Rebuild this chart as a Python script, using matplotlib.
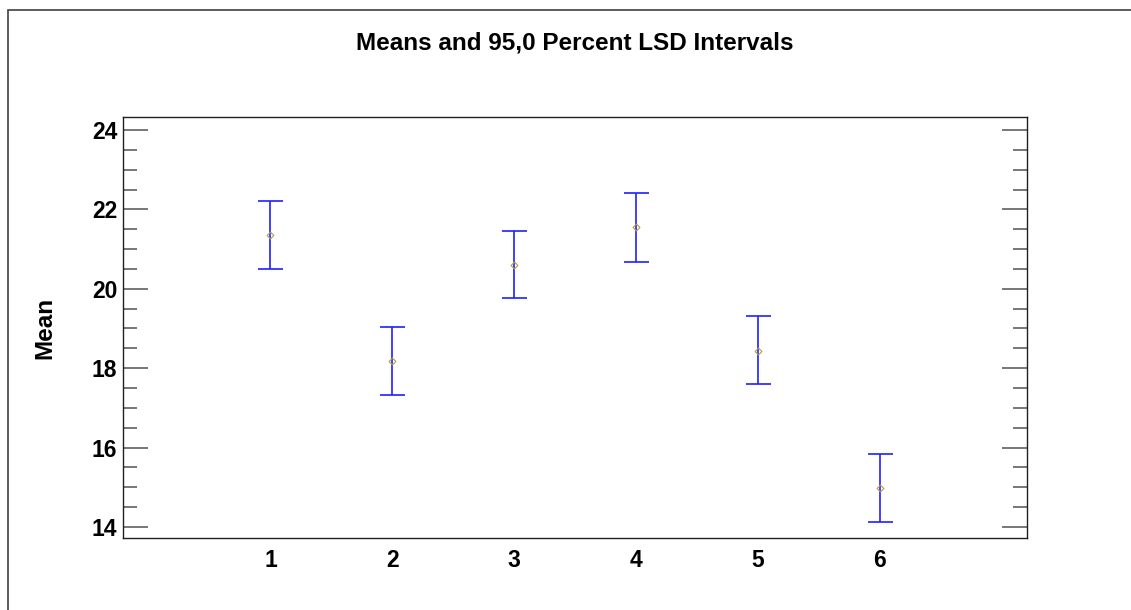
import numpy as np
import matplotlib.pyplot as plt
from matplotlib.patches import Rectangle
from matplotlib.ticker import MultipleLocator

# Group labels, means and LSD interval limits
groups = [1, 2, 3, 4, 5, 6]
means = [21.35, 18.18, 20.60, 21.56, 18.43, 14.98]
lower = [20.50, 17.33, 19.77, 20.68, 17.60, 14.13]
upper = [22.21, 19.04, 21.46, 22.41, 19.31, 15.84]

plt.rcParams['font.family'] = ['Liberation Sans', 'DejaVu Sans']

W, H = 1131, 610
fig = plt.figure(figsize=(W / 100, H / 100), dpi=100)

# outer frame of the graphics window (only top and left edges visible)
fig.patches.append(Rectangle((8 / W, -0.1), 1.2, 1.1 - 10 / H, transform=fig.transFigure,
                             fill=False, edgecolor='#404040', linewidth=1.2))

ax = fig.add_axes([123 / W, 1 - 538 / H, (1027 - 123) / W, (538 - 117) / H])

means = np.array(means)
yerr = [means - np.array(lower), np.array(upper) - means]
ax.errorbar(groups, means, yerr=yerr, fmt='none', ecolor='#2020ff', elinewidth=1.2,
            capsize=9, capthick=1.2)
ax.plot(groups, means, linestyle='none', marker='D', markersize=3.5,
        markerfacecolor='none', markeredgecolor='#b0a040', markeredgewidth=0.8)

ax.set_xlim(-0.21, 7.21)
ax.set_ylim(13.72, 24.33)
ax.set_xticks(groups)
ax.set_xticklabels([str(g) for g in groups], fontsize=16.5, fontweight='bold')
ax.yaxis.set_major_locator(MultipleLocator(2))
ax.yaxis.set_minor_locator(MultipleLocator(0.5))
ax.tick_params(axis='y', which='major', direction='in', length=18, width=1.2,
               color='#606060', left=True, right=True, labelsize=16.5, pad=4)
ax.tick_params(axis='y', which='minor', direction='in', length=10, width=1.2,
               color='#606060', left=True, right=True)
ax.tick_params(axis='x', which='both', length=0, pad=8)
for lab in ax.get_yticklabels():
    lab.set_fontweight('bold')

for sp in ax.spines.values():
    sp.set_color('#202020')
    sp.set_linewidth(1.0)

fig.text(45 / W, 1 - 328 / H, 'Mean', rotation=90, ha='center', va='center',
         fontsize=17.5, fontweight='bold')
fig.text(575 / W, 1 - 43 / H, 'Means and 95,0 Percent LSD Intervals', ha='center', va='center',
         fontsize=17.5, fontweight='bold')

plt.savefig('out.png', dpi=100)
